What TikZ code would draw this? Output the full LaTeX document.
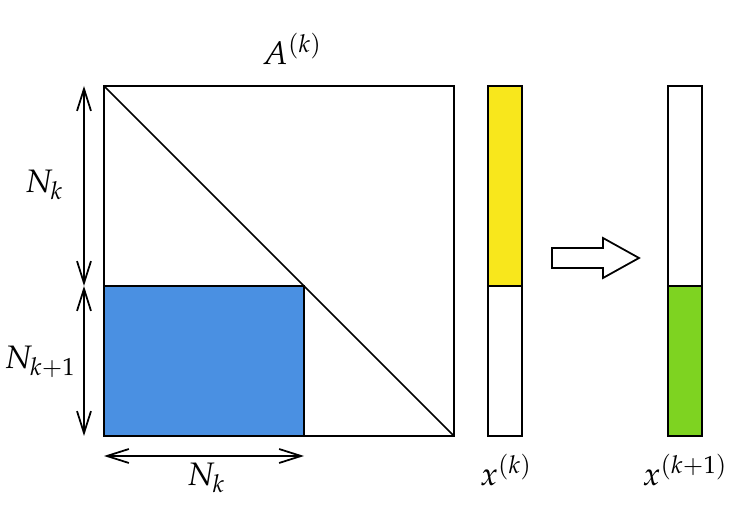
\documentclass[tikz,border=0pt]{standalone}
\usepackage{amsmath}
\usepackage{mathpazo}
\usetikzlibrary{arrows.meta}
\definecolor{blockblue}{HTML}{4A90E2}
\definecolor{vecyellow}{HTML}{F8E71C}
\definecolor{vecgreen}{HTML}{7ED321}
\tikzset{dimarrow/.style={{Straight Barb[length=0.44cm,width=0.28cm]}-{Straight Barb[length=0.44cm,width=0.28cm]}, line width=1pt}}
\tikzset{lbl/.style={font=\fontsize{18.5}{22}\selectfont, inner sep=1pt}}

\begin{document}
\begin{tikzpicture}
      \useasboundingbox (-2.08, -1.7) rectangle (12.78, 8.72);

      \coordinate (tl) at (0, 7);
      \coordinate (br) at (7, 0);
      \coordinate (vt) at (-0.4, 7);
      \coordinate (vm) at (-0.4, 3);
      \coordinate (vb) at (-0.4, 0);
      \coordinate (hl) at (0, -0.4);
      \coordinate (hr) at (4, -0.4);

      \fill [blockblue] (0, 0) rectangle (4, 3);
      \draw [line width=1.3pt] (0, 0) rectangle (4, 3);
      \draw [line width=1.3pt] (0, 0) rectangle (7, 7);
      \draw [line width=1pt] (tl) -- (br);

      \draw [dimarrow] (vt) -- (vm);
      \draw [dimarrow] (vm) -- (vb);
      \draw [dimarrow] (hl) -- (hr);

      % vectors
      \fill [vecyellow] (7.68, 3) rectangle (8.36, 7);
      \draw [line width=1.3pt] (7.68, 0) rectangle (8.36, 7);
      \draw [line width=1.3pt] (7.68, 3) -- (8.36, 3);

      \fill [vecgreen] (11.28, 0) rectangle (11.96, 3);
      \draw [line width=1.3pt] (11.28, 0) rectangle (11.96, 7);
      \draw [line width=1.3pt] (11.28, 3) -- (11.96, 3);

      \draw [line width=1pt, fill=white] (8.96, 3.36) -- (9.98, 3.36) -- (9.98, 3.16) -- (10.7, 3.56) -- (9.98, 3.96) -- (9.98, 3.76) -- (8.96, 3.76) -- cycle;

      \node [lbl] (A) at (3.76, 7.74) {$A^{(k)}$};
      \node [lbl] (Nk) at (-1.2, 5.02) {$N_k$};
      \node [lbl] (Nk1) at (-1.28, 1.48) {$N_{k+1}$};
      \node [lbl] (Nkb) at (2.04, -0.84) {$N_k$};
      \node [lbl] (xk) at (8.04, -0.68) {$x^{(k)}$};
      \node [lbl] (xk1) at (11.62, -0.68) {$x^{(k+1)}$};
\end{tikzpicture}
\end{document}
